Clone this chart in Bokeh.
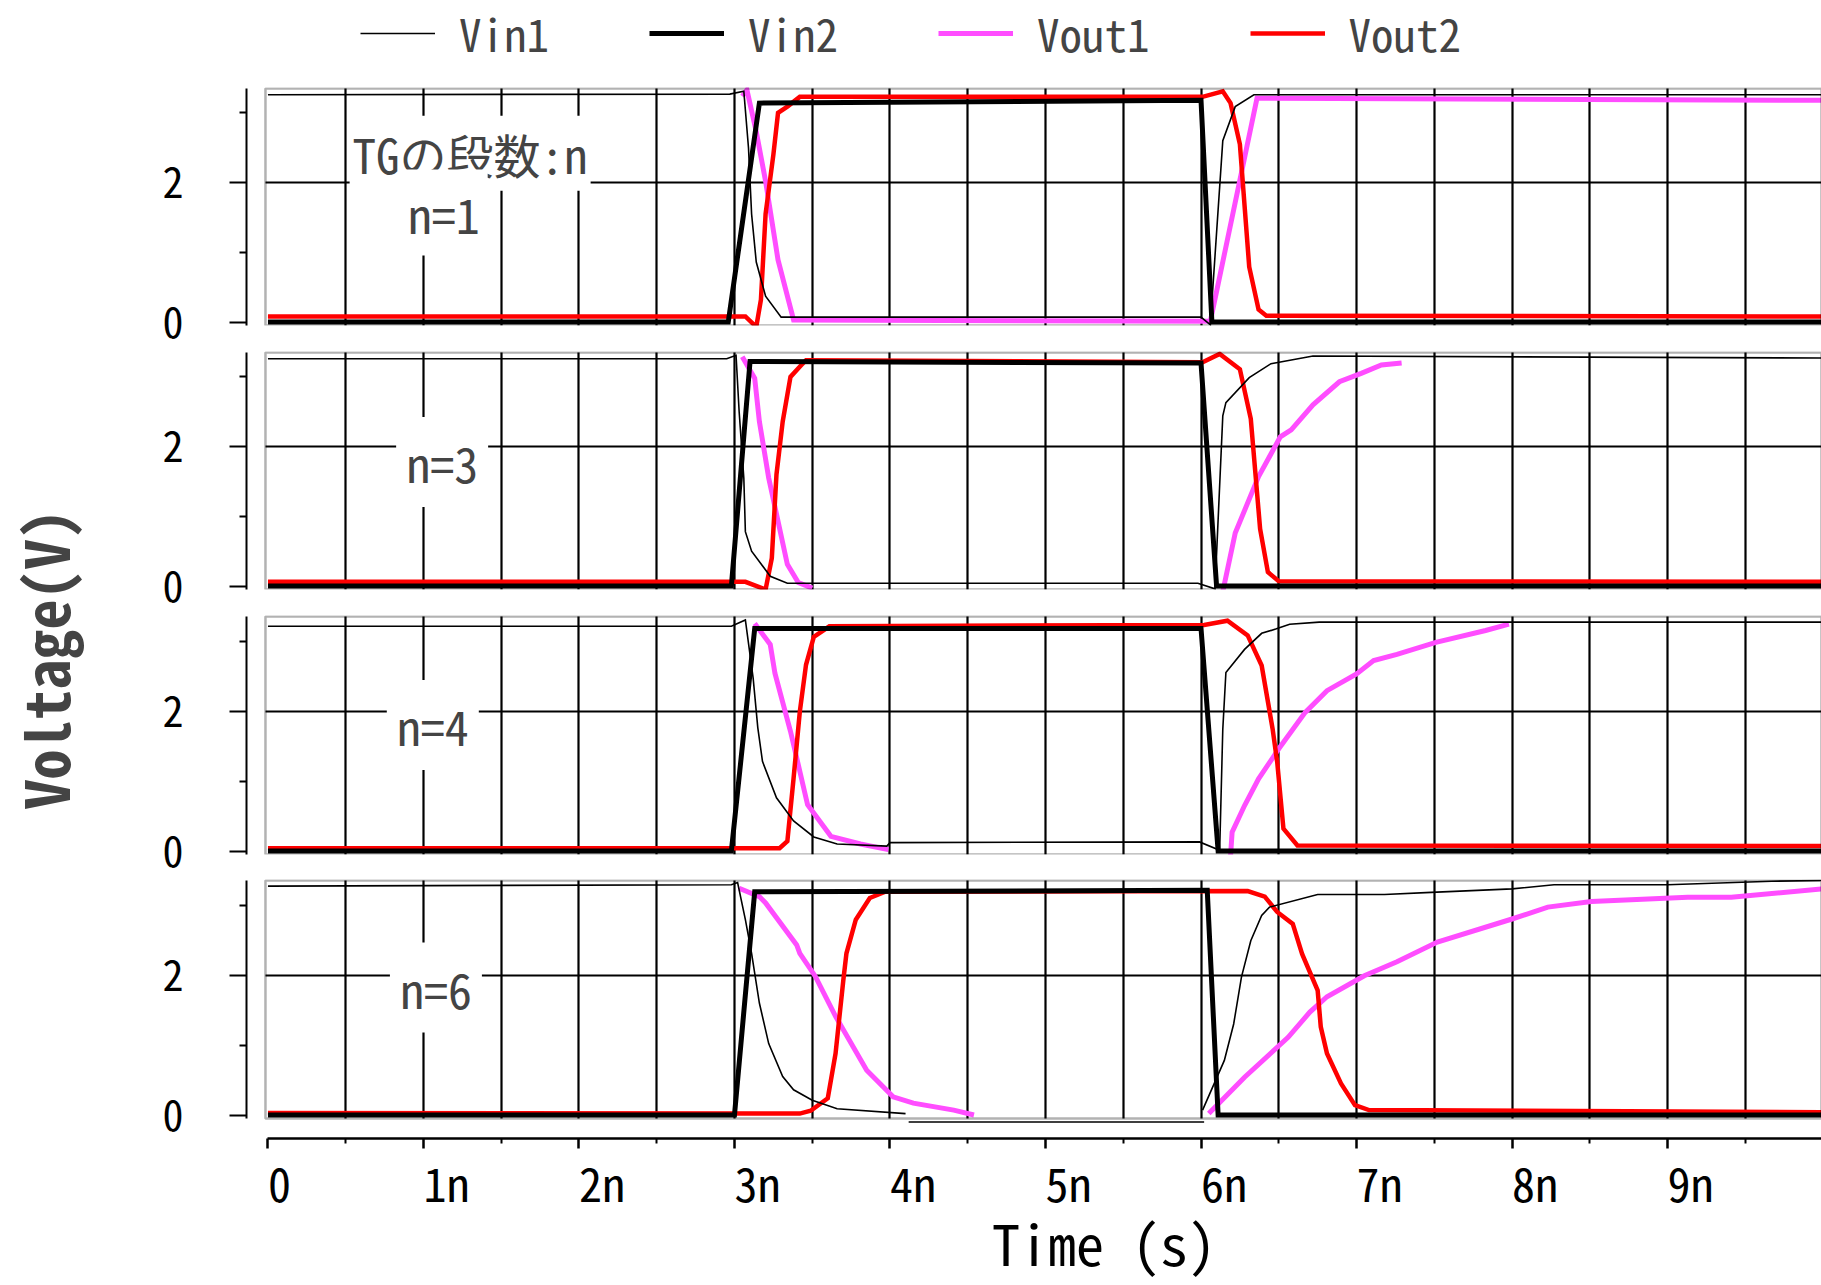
from bokeh.plotting import figure
from bokeh.models import Range1d, FixedTicker, BoxAnnotation, Label, Legend, LegendItem, Grid
from bokeh.layouts import row, column
from bokeh.embed import file_html
from bokeh.resources import INLINE

nan = float("nan")

# ---------------- axis ticks and texts ----------------
time_ticks = [0, 1, 2, 3, 4, 5, 6, 7, 8, 9]
time_labels = ["0", "1n", "2n", "3n", "4n", "5n", "6n", "7n", "8n", "9n"]
time_minor = [0.5, 1.5, 2.5, 3.5, 4.5, 5.5, 6.5, 7.5, 8.5, 9.5]
time_grid = [0.5, 1, 1.5, 2, 2.5, 3, 3.5, 4, 4.5, 5, 5.5, 6, 6.5, 7, 7.5, 8, 8.5, 9, 9.5]
volt_ticks = [0, 2]
volt_minor = [1, 3]
volt_grid = [2]
series_names = ["Vin1", "Vin2", "Vout1", "Vout2"]
panel_names = ["n=1", "n=3", "n=4", "n=6"]
header_text = "TGの段数:n"
x_title = "Time (s)"
y_title = "Voltage(V)"

# ---------------- panel n=1 (time in ns, volts) ----------------
n1_vin1_t = [0, 2.97, 3.06, 3.09, 3.11, 3.14, 3.20, 3.30, 6.00, 6.06, 6.14, 6.22, 6.34, 10.0]
n1_vin1_v = [3.26, 3.27, 3.31, 2.50, 1.55, 0.86, 0.37, 0.07, 0.07, -0.04, 2.60, 3.09, 3.26, 3.26]
n1_vin2_t = [0, 2.96, 3.16, 6.00, 6.07, 10.0]
n1_vin2_v = [0.0, 0.0, 3.14, 3.18, 0.0, 0.0]
n1_vout1_t = [3.05, 3.08, 3.14, 3.20, 3.28, 3.38, 6.06, 6.36, 10.0]
n1_vout1_v = [3.24, 3.33, 2.73, 2.02, 0.89, 0.03, 0.01, 3.21, 3.18]
n1_vout2_t = [0, 3.07, 3.14, 3.17, 3.20, 3.25, 3.28, 3.34, 3.42, 6.01, 6.14, 6.19, 6.25, 6.31, 6.37, 6.42, 10.0]
n1_vout2_v = [0.08, 0.08, -0.07, 0.32, 1.55, 2.40, 3.00, 3.09, 3.23, 3.23, 3.31, 3.14, 2.55, 0.79, 0.18, 0.09, 0.08]

# ---------------- panel n=3 ----------------
n3_vin1_t = [0, 2.95, 3.01, 3.03, 3.06, 3.07, 3.11, 3.23, 3.34, 5.98, 6.09, 6.14, 6.16, 6.31, 6.45, 6.72, 10.0]
n3_vin1_v = [3.26, 3.26, 3.31, 2.50, 1.55, 0.78, 0.50, 0.14, 0.04, 0.04, -0.04, 2.44, 2.63, 2.99, 3.19, 3.30, 3.27]
n3_vin2_t = [0, 2.98, 3.10, 6.00, 6.10, 10.0]
n3_vin2_v = [0.0, 0.0, 3.22, 3.20, 0.0, 0.0]
n3_vout1_t = [3.05, 3.13, 3.16, 3.22, 3.28, 3.34, 3.41, 3.50, nan,
              6.14, 6.22, 6.37, 6.51, 6.58, 6.72, 6.89, 7.03, 7.16, 7.29]
n3_vout1_v = [3.29, 2.98, 2.36, 1.55, 0.93, 0.31, 0.05, -0.03, nan,
              -0.08, 0.76, 1.57, 2.14, 2.24, 2.60, 2.93, 3.05, 3.17, 3.20]
n3_vout2_t = [0, 3.07, 3.20, 3.24, 3.27, 3.31, 3.36, 3.43, 3.46, 6.01, 6.12, 6.25, 6.32, 6.38, 6.43, 6.50, 10.0]
n3_vout2_v = [0.06, 0.06, -0.05, 0.40, 1.60, 2.36, 3.00, 3.17, 3.24, 3.21, 3.33, 3.11, 2.40, 0.82, 0.20, 0.07, 0.06]

# ---------------- panel n=4 ----------------
n4_vin1_t = [0, 2.98, 3.07, 3.12, 3.15, 3.18, 3.27, 3.38, 3.51, 3.66, 3.98, 4.00, 5.99,
             6.12, 6.14, 6.16, 6.28, 6.39, 6.48, 6.57, 6.76, 10.0]
n4_vin1_v = [3.21, 3.21, 3.30, 2.47, 1.76, 1.28, 0.76, 0.43, 0.20, 0.10, 0.07, 0.12, 0.13,
             0.01, 1.74, 2.55, 2.88, 3.11, 3.17, 3.24, 3.27, 3.27]
n4_vin2_t = [0, 2.98, 3.13, 6.00, 6.11, 10.0]
n4_vin2_v = [0.0, 0.0, 3.18, 3.18, 0.0, 0.0]
n4_vout1_t = [3.13, 3.23, 3.26, 3.36, 3.42, 3.47, 3.62, 3.81, 3.99, nan,
              6.19, 6.20, 6.28, 6.37, 6.50, 6.67, 6.81, 7.00, 7.11, 7.26, 7.51, 7.83, 7.98]
n4_vout1_v = [3.25, 2.95, 2.54, 1.71, 1.14, 0.66, 0.21, 0.10, 0.02, nan,
              -0.07, 0.27, 0.65, 1.03, 1.46, 1.98, 2.29, 2.53, 2.72, 2.81, 2.98, 3.15, 3.24]
n4_vout2_t = [0, 3.29, 3.34, 3.38, 3.42, 3.46, 3.51, 3.61, 6.02, 6.17, 6.30, 6.39, 6.46, 6.49, 6.53, 6.62, 10.0]
n4_vout2_v = [0.04, 0.04, 0.14, 1.04, 1.99, 2.66, 3.06, 3.21, 3.23, 3.29, 3.08, 2.65, 1.75, 1.27, 0.32, 0.08, 0.07]

# ---------------- panel n=6 ----------------
n6_vin1_t = [0, 2.98, 3.02, 3.07, 3.11, 3.16, 3.22, 3.31, 3.38, 3.50, 3.66, 4.10, nan,
             4.12, 6.02, nan,
             6.01, 6.15, 6.21, 6.26, 6.32, 6.39, 6.44, 6.75, 7.18, 7.48, 8.00, 8.27, 9.00, 9.67, 10.0]
n6_vin1_v = [3.27, 3.29, 3.32, 2.79, 2.31, 1.60, 1.02, 0.55, 0.36, 0.21, 0.09, 0.02, nan,
             -0.10, -0.10, nan,
             0.07, 0.78, 1.30, 1.97, 2.49, 2.85, 2.97, 3.15, 3.15, 3.18, 3.23, 3.29, 3.29, 3.34, 3.35]
n6_vin2_t = [0, 3.00, 3.13, 6.04, 6.11, 10.0]
n6_vin2_v = [0.0, 0.0, 3.19, 3.21, 0.0, 0.0]
n6_vout1_t = [3.03, 3.16, 3.20, 3.40, 3.42, 3.52, 3.65, 3.85, 4.02, 4.15, 4.41, 4.54, nan,
              6.05, 6.28, 6.56, 6.70, 6.81, 7.05, 7.26, 7.52, 8.00, 8.23, 8.51, 9.13, 9.41, 10.0]
n6_vout1_v = [3.24, 3.12, 3.03, 2.43, 2.31, 1.98, 1.41, 0.64, 0.26, 0.17, 0.07, 0.00, nan,
              0.02, 0.54, 1.11, 1.47, 1.69, 1.99, 2.19, 2.47, 2.80, 2.97, 3.05, 3.11, 3.11, 3.23]
n6_vout2_t = [0, 3.42, 3.49, 3.60, 3.65, 3.70, 3.72, 3.78, 3.87, 3.97, 6.30, 6.41, 6.49, 6.59,
              6.65, 6.75, 6.77, 6.81, 6.90, 6.99, 7.08, 10.0]
n6_vout2_v = [0.03, 0.02, 0.06, 0.24, 0.88, 1.93, 2.31, 2.79, 3.10, 3.19, 3.20, 3.12, 2.90, 2.73,
              2.30, 1.78, 1.26, 0.88, 0.45, 0.14, 0.07, 0.04]

# ---------------- styling ----------------
FONT = "'Noto Sans Mono CJK JP', 'Noto Sans CJK JP', sans-serif"
STYLE = {
    "Vin1": dict(line_color="black", line_width=1.6),
    "Vin2": dict(line_color="black", line_width=5),
    "Vout1": dict(line_color="#FF4DFF", line_width=5),
    "Vout2": dict(line_color="#FF0000", line_width=4.5),
}
DRAW_ORDER = ["Vout1", "Vout2", "Vin1", "Vin2"]

LEFT_W = 108
PW = 1821 - LEFT_W
X0, X1 = -0.138, 9.99
BOX_LEFT = -0.016
Y0, Y1 = -0.05, 3.35
HAS_CROSS = "cross_bounds" in Grid.properties()


def make_panel(series, name, height, top, bottom, box_px, pad_top_px, pad_bottom_px,
               name_xy, pad, header_xy=None, with_xaxis=False):
    k = box_px / (Y1 - Y0)
    yr = Range1d(Y0 - pad_bottom_px / k, Y1 + pad_top_px / k)
    p = figure(width=PW, height=height, x_range=Range1d(X0, X1), y_range=yr,
               output_backend="svg", toolbar_location=None, title=None,
               x_axis_location="below" if with_xaxis else None,
               min_border_left=138, min_border_right=0,
               min_border_top=top, min_border_bottom=bottom)
    p.outline_line_color = None
    p.background_fill_color = "white"
    p.xgrid.ticker = FixedTicker(ticks=time_grid)
    p.xgrid.grid_line_color = "black"
    p.xgrid.grid_line_width = 2.2
    p.ygrid.ticker = FixedTicker(ticks=volt_grid)
    p.ygrid.grid_line_color = "black"
    p.ygrid.grid_line_width = 2.2
    if HAS_CROSS:
        p.ygrid.cross_bounds = (BOX_LEFT, X1)
        p.xgrid.cross_bounds = (Y0, Y1)
    ya = p.yaxis[0]
    ya.ticker = FixedTicker(ticks=volt_ticks, minor_ticks=volt_minor)
    ya.bounds = (Y0, Y1)
    ya.axis_line_width = 2
    ya.major_tick_in = 0
    ya.major_tick_out = 17
    ya.minor_tick_in = 0
    ya.minor_tick_out = 7
    ya.major_tick_line_width = 2
    ya.minor_tick_line_width = 2
    ya.major_label_text_font = FONT
    ya.major_label_text_font_size = "42px"
    ya.major_label_text_color = "black"
    ya.major_label_standoff = 46

    if with_xaxis:
        xa = p.xaxis[0]
        xa.ticker = FixedTicker(ticks=time_ticks, minor_ticks=time_minor)
        xa.major_label_overrides = {t: "\u00a0" * len(s) + s for t, s in zip(time_ticks, time_labels)}
        xa.bounds = (0, X1)
        xa.axis_line_width = 2.5
        xa.major_tick_in = 0
        xa.major_tick_out = 10
        xa.minor_tick_in = 0
        xa.minor_tick_out = 5
        xa.major_tick_line_width = 2.5
        xa.minor_tick_line_width = 2
        xa.major_label_text_font = FONT
        xa.major_label_text_font_size = "46px"
        xa.major_label_text_color = "black"
        xa.major_label_standoff = 0
        xa.axis_label = "\u00a0" * 5 + x_title
        xa.axis_label_text_font = FONT
        xa.axis_label_text_font_size = "56px"
        xa.axis_label_text_font_style = "normal"
        xa.axis_label_text_color = "black"
        xa.axis_label_standoff = -17

    for key in DRAW_ORDER:
        t, v = series[key]
        p.line(x=t, y=v, line_join="miter", **STYLE[key])

    p.add_layout(BoxAnnotation(left=BOX_LEFT, bottom=Y0, top=Y1, fill_color=None,
                               line_color="black", line_width=2.5))
    if header_xy is not None:
        p.add_layout(Label(x=header_xy[0], y=header_xy[1], text=header_text, text_font=FONT,
                           text_font_size="47px", text_align="center", text_baseline="middle",
                           background_fill_color="white", padding=3))
    p.add_layout(Label(x=name_xy[0], y=name_xy[1], text=name, text_font=FONT,
                       text_font_size="48px", text_align="center", text_baseline="middle",
                       background_fill_color="white", padding=pad))
    return p


p1 = make_panel({"Vin1": (n1_vin1_t, n1_vin1_v), "Vin2": (n1_vin2_t, n1_vin2_v),
                 "Vout1": (n1_vout1_t, n1_vout1_v), "Vout2": (n1_vout2_t, n1_vout2_v)},
                panel_names[0], 271, 7, 26, 237, 1, 0, (1.13, 1.57), 8, header_xy=(1.30, 2.42))
p3 = make_panel({"Vin1": (n3_vin1_t, n3_vin1_v), "Vin2": (n3_vin2_t, n3_vin2_v),
                 "Vout1": (n3_vout1_t, n3_vout1_v), "Vout2": (n3_vout2_t, n3_vout2_v)},
                panel_names[1], 264, 0, 26, 237, 1, 0, (1.12, 1.78), 10)
p4 = make_panel({"Vin1": (n4_vin1_t, n4_vin1_v), "Vin2": (n4_vin2_t, n4_vin2_v),
                 "Vout1": (n4_vout1_t, n4_vout1_v), "Vout2": (n4_vout2_t, n4_vout2_v)},
                panel_names[2], 264, 0, 25, 238, 1, 0, (1.06, 1.80), 10)
p6 = make_panel({"Vin1": (n6_vin1_t, n6_vin1_v), "Vin2": (n6_vin2_t, n6_vin2_v),
                 "Vout1": (n6_vout1_t, n6_vout1_v), "Vout2": (n6_vout2_t, n6_vout2_v)},
                panel_names[3], 406, 0, 147, 238, 1, 20, (1.08, 1.82), 10, with_xaxis=True)

# ---------------- legend strip ----------------
lg = figure(width=PW, height=80, x_range=Range1d(0, 1), y_range=Range1d(0, 1),
            output_backend="svg", toolbar_location=None, title=None,
            x_axis_location=None, y_axis_location=None, min_border=0)
lg.outline_line_color = None
lg.grid.visible = False
items = []
for key in series_names:
    r = lg.line(x=[nan], y=[nan], **STYLE[key])
    items.append(LegendItem(label=key, renderers=[r]))
legend = Legend(items=items, orientation="horizontal", location=(114, 15),
                label_text_font=FONT, label_text_font_size="45px", glyph_width=75,
                glyph_height=30, label_standoff=24, spacing=100, padding=0, margin=0,
                border_line_alpha=0, background_fill_alpha=0)
lg.add_layout(legend, "center")

# ---------------- y title strip ----------------
lf = figure(width=LEFT_W, height=1285, x_range=Range1d(0, 1), y_range=Range1d(0, 1),
            output_backend="svg", toolbar_location=None, title=None,
            x_axis_location=None, y_axis_location=None, min_border=0)
lf.outline_line_color = None
lf.grid.visible = False
lf.add_layout(Label(x=43, y=626, x_units="screen", y_units="screen", text=y_title,
                    angle=90, angle_units="deg", text_font=FONT, text_font_size="60px",
                    text_font_style="bold", text_align="center", text_baseline="middle"))

layout = row(lf, column(lg, p1, p3, p4, p6))
open("out.html", "w").write(file_html(layout, INLINE))
